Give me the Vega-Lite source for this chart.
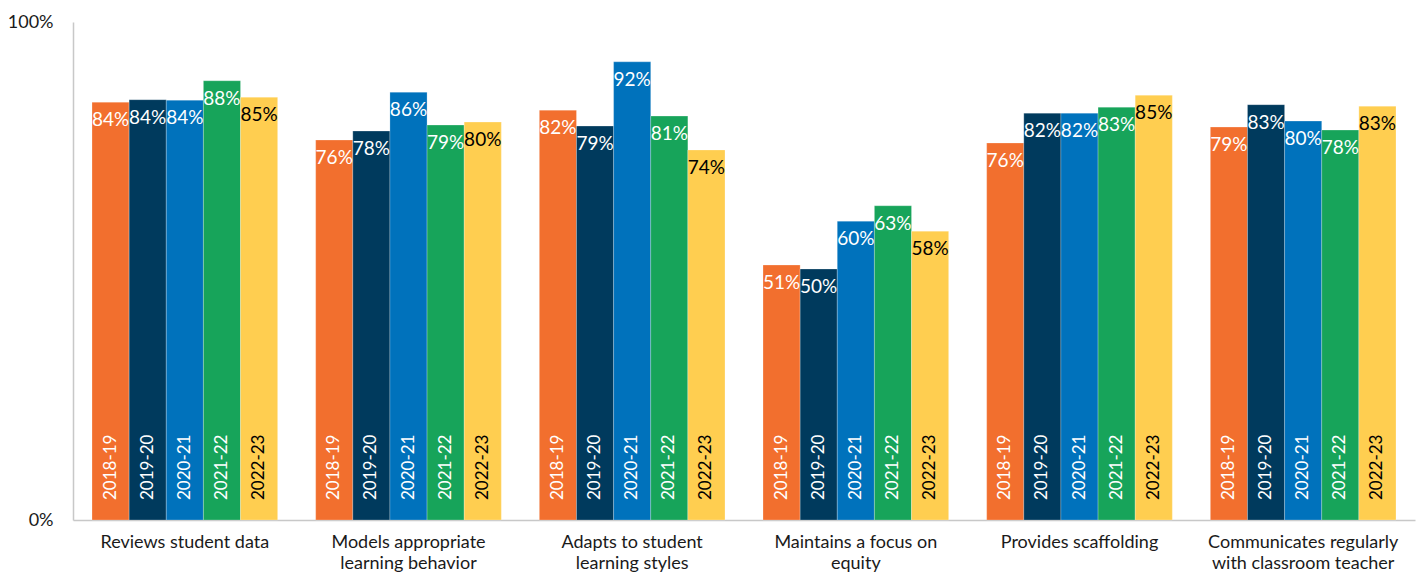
{
  "$schema": "https://vega.github.io/schema/vega-lite/v6.json",
  "width": 1342,
  "height": 498,
  "autosize": "none",
  "padding": {"left": 73, "top": 22, "right": 11, "bottom": 55},
  "background": "white",
  "config": {"font": "Lato", "view": {"stroke": null}},
  "data": {"values": [
    {"cat": "Reviews student data", "year": "2018-19", "v": 0.839},
    {"cat": "Reviews student data", "year": "2019-20", "v": 0.844},
    {"cat": "Reviews student data", "year": "2020-21", "v": 0.843},
    {"cat": "Reviews student data", "year": "2021-22", "v": 0.882},
    {"cat": "Reviews student data", "year": "2022-23", "v": 0.849},
    {"cat": "Models appropriate|learning behavior", "year": "2018-19", "v": 0.763},
    {"cat": "Models appropriate|learning behavior", "year": "2019-20", "v": 0.781},
    {"cat": "Models appropriate|learning behavior", "year": "2020-21", "v": 0.859},
    {"cat": "Models appropriate|learning behavior", "year": "2021-22", "v": 0.793},
    {"cat": "Models appropriate|learning behavior", "year": "2022-23", "v": 0.799},
    {"cat": "Adapts to student|learning styles", "year": "2018-19", "v": 0.823},
    {"cat": "Adapts to student|learning styles", "year": "2019-20", "v": 0.791},
    {"cat": "Adapts to student|learning styles", "year": "2020-21", "v": 0.920},
    {"cat": "Adapts to student|learning styles", "year": "2021-22", "v": 0.811},
    {"cat": "Adapts to student|learning styles", "year": "2022-23", "v": 0.743},
    {"cat": "Maintains a focus on|equity", "year": "2018-19", "v": 0.512},
    {"cat": "Maintains a focus on|equity", "year": "2019-20", "v": 0.504},
    {"cat": "Maintains a focus on|equity", "year": "2020-21", "v": 0.600},
    {"cat": "Maintains a focus on|equity", "year": "2021-22", "v": 0.631},
    {"cat": "Maintains a focus on|equity", "year": "2022-23", "v": 0.580},
    {"cat": "Provides scaffolding", "year": "2018-19", "v": 0.757},
    {"cat": "Provides scaffolding", "year": "2019-20", "v": 0.817},
    {"cat": "Provides scaffolding", "year": "2020-21", "v": 0.817},
    {"cat": "Provides scaffolding", "year": "2021-22", "v": 0.829},
    {"cat": "Provides scaffolding", "year": "2022-23", "v": 0.853},
    {"cat": "Communicates regularly|with classroom teacher", "year": "2018-19", "v": 0.789},
    {"cat": "Communicates regularly|with classroom teacher", "year": "2019-20", "v": 0.834},
    {"cat": "Communicates regularly|with classroom teacher", "year": "2020-21", "v": 0.801},
    {"cat": "Communicates regularly|with classroom teacher", "year": "2021-22", "v": 0.783},
    {"cat": "Communicates regularly|with classroom teacher", "year": "2022-23", "v": 0.831}
  ]},
  "encoding": {
    "x": {
      "field": "cat", "type": "nominal", "sort": null, "title": null,
      "scale": {"paddingInner": 0.17, "paddingOuter": 0.085},
      "axis": {
        "labelExpr": "split(datum.label, '|')",
        "labelAngle": 0, "labelFontSize": 18, "labelColor": "#1a1a1a",
        "labelPadding": 13, "labelLineHeight": 21, "ticks": false,
        "domainColor": "#c8c8c8", "domainWidth": 1.5, "labelLimit": 300
      }
    },
    "xOffset": {"field": "year", "type": "nominal", "sort": null},
    "y": {
      "field": "v", "type": "quantitative", "title": null,
      "scale": {"domain": [0, 1], "nice": false},
      "axis": {
        "values": [0, 1], "format": ".0%", "grid": false, "ticks": false,
        "labelFontSize": 18, "labelColor": "#1a1a1a", "labelPadding": 20,
        "domainColor": "#c8c8c8", "domainWidth": 1.5
      }
    }
  },
  "layer": [
    {
      "mark": {"type": "bar", "stroke": "#ffffff", "strokeWidth": 0.4, "strokeOpacity": 0.6},
      "encoding": {
        "color": {
          "field": "year", "type": "nominal", "legend": null,
          "scale": {
            "domain": ["2018-19", "2019-20", "2020-21", "2021-22", "2022-23"],
            "range": ["#F26F2E", "#003A5D", "#0072BC", "#17A45A", "#FFCE50"]
          }
        }
      }
    },
    {
      "mark": {"type": "text", "baseline": "top", "dy": 9, "fontSize": 19, "align": "center"},
      "encoding": {
        "text": {"field": "v", "type": "quantitative", "format": ".0%"},
        "color": {"condition": {"test": "datum.year === '2022-23'", "value": "#000000"}, "value": "#ffffff"}
      }
    },
    {
      "mark": {"type": "text", "angle": 270, "align": "left", "baseline": "middle", "dx": 20, "fontSize": 17},
      "encoding": {
        "y": {"datum": 0},
        "text": {"field": "year"},
        "color": {"condition": {"test": "datum.year === '2022-23'", "value": "#000000"}, "value": "#ffffff"}
      }
    }
  ]
}
